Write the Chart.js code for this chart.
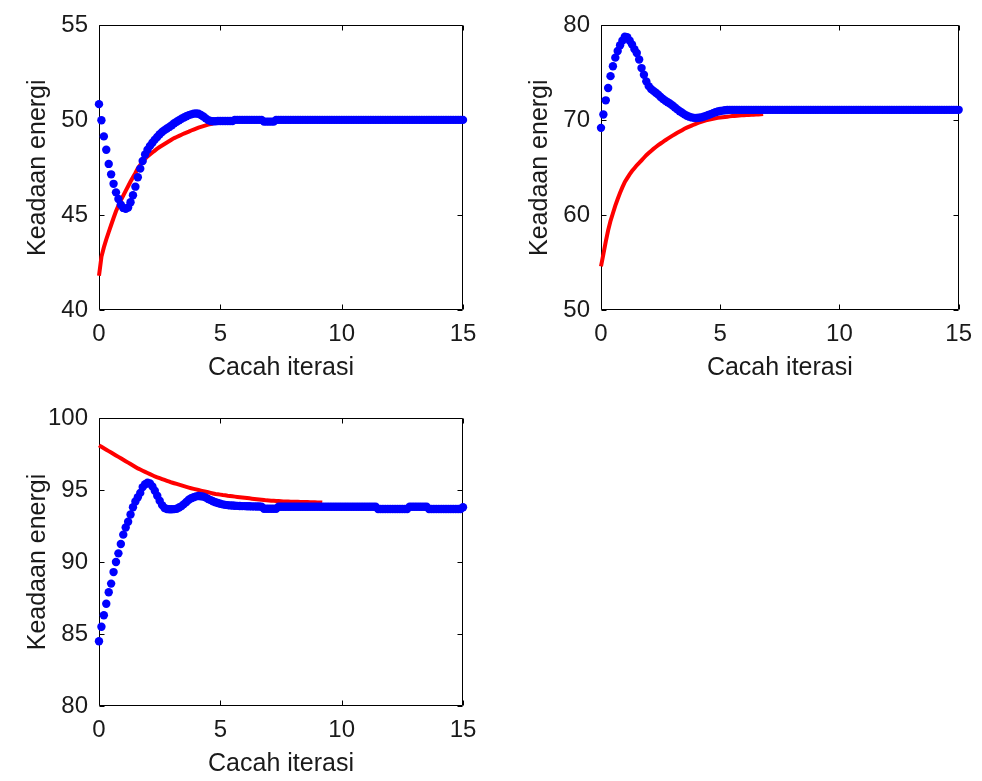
<!DOCTYPE html>
<html>
<head>
<meta charset="utf-8">
<script src="https://cdn.jsdelivr.net/npm/chart.js@4.4.1/dist/chart.umd.min.js"></script>
<style>
html,body{margin:0;padding:0;background:#fff;overflow:hidden;width:982px;height:781px;position:relative;}
canvas{position:absolute;}
</style>
</head>
<body>
<canvas id="c1" width="490" height="390" style="left:0;top:0"></canvas>
<canvas id="c2" width="492" height="390" style="left:490px;top:0"></canvas>
<canvas id="c3" width="490" height="396" style="left:0;top:390px"></canvas>
<script>
// Iteration count (x values, sampled every 0.1)
const iter = [
0,0.1,0.2,0.3,0.4,0.5,0.6,0.7,0.8,0.9,
1,1.1,1.2,1.3,1.4,1.5,1.6,1.7,1.8,1.9,
2,2.1,2.2,2.3,2.4,2.5,2.6,2.7,2.8,2.9,
3,3.1,3.2,3.3,3.4,3.5,3.6,3.7,3.8,3.9,
4,4.1,4.2,4.3,4.4,4.5,4.6,4.7,4.8,4.9,
5,5.1,5.2,5.3,5.4,5.5,5.6,5.7,5.8,5.9,
6,6.1,6.2,6.3,6.4,6.5,6.6,6.7,6.8,6.9,
7,7.1,7.2,7.3,7.4,7.5,7.6,7.7,7.8,7.9,
8,8.1,8.2,8.3,8.4,8.5,8.6,8.7,8.8,8.9,
9,9.1,9.2,9.3,9.4,9.5,9.6,9.7,9.8,9.9,
10,10.1,10.2,10.3,10.4,10.5,10.6,10.7,10.8,10.9,
11,11.1,11.2,11.3,11.4,11.5,11.6,11.7,11.8,11.9,
12,12.1,12.2,12.3,12.4,12.5,12.6,12.7,12.8,12.9,
13,13.1,13.2,13.3,13.4,13.5,13.6,13.7,13.8,13.9,
14,14.1,14.2,14.3,14.4,14.5,14.6,14.7,14.8,14.9,
15];

// Panel 1 (top-left)
const blue1 = [
50.85,50.0,49.15,48.45,47.7,47.15,46.65,46.2,45.85,45.55,
45.38,45.33,45.4,45.68,46.05,46.5,47.0,47.45,47.85,48.2,
48.45,48.65,48.82,48.98,49.12,49.26,49.38,49.48,49.57,49.65,
49.74,49.84,49.92,50.0,50.08,50.15,50.21,50.27,50.31,50.35,
50.36,50.34,50.28,50.2,50.1,50.01,49.96,49.95,49.95,49.96,
49.96,49.96,49.96,49.96,49.96,49.96,50.02,50.02,50.02,50.02,
50.02,50.02,50.02,50.02,50.02,50.02,50.02,50.02,49.93,49.93,
49.93,49.93,49.93,50.02,50.02,50.02,50.02,50.02,50.02,50.02,
50.02,50.02,50.02,50.02,50.02,50.02,50.02,50.02,50.02,50.02,
50.02,50.02,50.02,50.02,50.02,50.02,50.02,50.02,50.02,50.02,
50.02,50.02,50.02,50.02,50.02,50.02,50.02,50.02,50.02,50.02,
50.02,50.02,50.02,50.02,50.02,50.02,50.02,50.02,50.02,50.02,
50.02,50.02,50.02,50.02,50.02,50.02,50.02,50.02,50.02,50.02,
50.02,50.02,50.02,50.02,50.02,50.02,50.02,50.02,50.02,50.02,
50.02,50.02,50.02,50.02,50.02,50.02,50.02,50.02,50.02,50.02,
50.02];
const red1 = [
41.8,42.8,43.3,43.72,44.1,44.48,44.85,45.2,45.5,45.78,
46.03,46.28,46.52,46.77,47.0,47.22,47.47,47.65,47.82,47.97,
48.1,48.2,48.3,48.4,48.5,48.59,48.67,48.75,48.83,48.91,
48.99,49.06,49.12,49.18,49.24,49.3,49.35,49.4,49.46,49.51,
49.56,49.61,49.65,49.69,49.73,49.77,49.8,49.83];

// Panel 2 (top-right)
const blue2 = [
69.2,70.6,72.1,73.4,74.65,75.7,76.6,77.3,77.9,78.4,
78.8,78.75,78.4,78.0,77.5,77.1,76.4,75.5,74.8,74.1,
73.6,73.3,73.1,72.9,72.7,72.45,72.25,72.05,71.9,71.75,
71.55,71.35,71.15,70.95,70.8,70.62,70.48,70.38,70.3,70.25,
70.24,70.26,70.3,70.38,70.46,70.55,70.65,70.75,70.85,70.93,
70.98,71.02,71.05,71.08,71.1,71.1,71.1,71.1,71.1,71.1,
71.1,71.1,71.1,71.1,71.1,71.1,71.1,71.1,71.1,71.1,
71.1,71.1,71.1,71.1,71.1,71.1,71.1,71.1,71.1,71.1,
71.1,71.1,71.1,71.1,71.1,71.1,71.1,71.1,71.1,71.1,
71.1,71.1,71.1,71.1,71.1,71.1,71.1,71.1,71.1,71.1,
71.1,71.1,71.1,71.1,71.1,71.1,71.1,71.1,71.1,71.1,
71.1,71.1,71.1,71.1,71.1,71.1,71.1,71.1,71.1,71.1,
71.1,71.1,71.1,71.1,71.1,71.1,71.1,71.1,71.1,71.1,
71.1,71.1,71.1,71.1,71.1,71.1,71.1,71.1,71.1,71.1,
71.1,71.1,71.1,71.1,71.1,71.1,71.1,71.1,71.1,71.1,
71.1];
const red2 = [
54.6,55.9,57.2,58.4,59.4,60.2,61.0,61.7,62.35,62.95,
63.5,63.9,64.3,64.65,64.95,65.25,65.5,65.78,66.05,66.32,
66.55,66.77,66.98,67.18,67.37,67.55,67.72,67.9,68.06,68.22,
68.38,68.53,68.68,68.82,68.96,69.1,69.22,69.33,69.44,69.55,
69.65,69.74,69.83,69.91,69.99,70.05,70.11,70.16,70.21,70.25,
70.29,70.32,70.35,70.38,70.41,70.44,70.46,70.48,70.5,70.52,
70.54,70.55,70.56,70.58,70.59,70.6,70.62,70.63,70.65];

// Panel 3 (bottom-left)
const blue3 = [
84.5,85.5,86.3,87.1,87.9,88.5,89.3,90.0,90.6,91.25,
91.9,92.4,92.8,93.3,93.8,94.2,94.5,94.8,95.2,95.4,
95.5,95.45,95.25,94.95,94.6,94.25,93.95,93.75,93.68,93.66,
93.66,93.67,93.7,93.78,93.88,94.02,94.17,94.32,94.43,94.5,
94.56,94.58,94.57,94.54,94.47,94.38,94.3,94.22,94.15,94.1,
94.05,94.0,93.97,93.95,93.93,93.92,93.91,93.9,93.89,93.88,
93.88,93.87,93.87,93.86,93.86,93.85,93.85,93.84,93.7,93.7,
93.7,93.7,93.7,93.7,93.84,93.84,93.84,93.84,93.84,93.84,
93.84,93.84,93.84,93.84,93.84,93.84,93.84,93.84,93.84,93.84,
93.84,93.84,93.84,93.84,93.84,93.84,93.84,93.84,93.84,93.84,
93.84,93.84,93.84,93.84,93.84,93.84,93.84,93.84,93.84,93.84,
93.84,93.84,93.84,93.84,93.84,93.68,93.68,93.68,93.68,93.68,
93.68,93.68,93.68,93.68,93.68,93.68,93.68,93.68,93.84,93.84,
93.84,93.84,93.84,93.84,93.84,93.84,93.68,93.68,93.68,93.68,
93.68,93.68,93.68,93.68,93.68,93.68,93.68,93.68,93.68,93.68,
93.8];
const red3 = [
98.1,98.0,97.9,97.8,97.7,97.6,97.5,97.4,97.3,97.2,
97.1,97.0,96.9,96.8,96.7,96.6,96.5,96.42,96.34,96.26,
96.18,96.1,96.02,95.94,95.88,95.82,95.76,95.7,95.64,95.58,
95.52,95.47,95.42,95.37,95.32,95.27,95.22,95.17,95.12,95.08,
95.04,95.0,94.96,94.92,94.88,94.84,94.8,94.76,94.72,94.7,
94.68,94.65,94.63,94.6,94.58,94.56,94.54,94.52,94.5,94.48,
94.46,94.44,94.42,94.4,94.38,94.36,94.34,94.32,94.3,94.28,
94.27,94.26,94.25,94.24,94.23,94.22,94.21,94.2,94.2,94.19,
94.19,94.18,94.18,94.17,94.17,94.16,94.16,94.15,94.15,94.15,
94.14,94.14,94.13];

const xTitle = 'Cacah iterasi';
const yTitle = 'Keadaan energi';
const FONT = '"Liberation Sans", Arial, Helvetica, sans-serif';
const TXT = '#1a1a1a';

const frame = {
  id: 'frame',
  beforeDatasetsDraw(chart) {
    const {ctx, chartArea: a, scales: {x, y}} = chart;
    ctx.save();
    ctx.strokeStyle = '#000';
    ctx.lineWidth = 1;
    const L = Math.round(a.left) + 0.5, R = Math.round(a.right) - 0.5;
    const T = Math.round(a.top) + 0.5, B = Math.round(a.bottom) - 0.5;
    ctx.beginPath();
    ctx.rect(L, T, R - L, B - T);
    x.ticks.forEach(t => {
      const p = Math.round(x.getPixelForValue(t.value)) + 0.5;
      ctx.moveTo(p, B); ctx.lineTo(p, B - 5);
      ctx.moveTo(p, T); ctx.lineTo(p, T + 5);
    });
    y.ticks.forEach(t => {
      const p = Math.round(y.getPixelForValue(t.value)) + 0.5;
      ctx.moveTo(L, p); ctx.lineTo(L + 5, p);
      ctx.moveTo(R, p); ctx.lineTo(R - 5, p);
    });
    ctx.stroke();
    ctx.restore();
  }
};

function makeChart(id, blue, red, yMin, yMax, yStep, pad) {
  new Chart(document.getElementById(id), {
    type: 'scatter',
    data: {
      datasets: [
        {
          data: blue.map((v, i) => ({x: iter[i], y: v})),
          showLine: false,
          pointRadius: 4.2,
          pointBorderWidth: 0,
          pointBackgroundColor: '#0000ff',
          clip: false
        },
        {
          data: red.map((v, i) => ({x: iter[i], y: v})),
          showLine: true,
          borderColor: '#ff0000',
          borderWidth: 4,
          pointRadius: 0,
          tension: 0,
          clip: false
        }
      ]
    },
    options: {
      responsive: false,
      animation: false,
      events: [],
      layout: {padding: pad},
      plugins: {legend: {display: false}, tooltip: {enabled: false}},
      scales: {
        x: {
          type: 'linear', min: 0, max: 15,
          grid: {display: false, drawTicks: false},
          border: {display: false},
          ticks: {stepSize: 5, padding: 10, color: TXT, font: {family: FONT, size: 24}},
          title: {display: true, text: xTitle, color: TXT, font: {family: FONT, size: 25}, padding: {top: 0, bottom: 7}},
          afterFit(s) { s.height = 80; }
        },
        y: {
          type: 'linear', min: yMin, max: yMax,
          grid: {display: false, drawTicks: false},
          border: {display: false},
          ticks: {stepSize: yStep, padding: 11, color: TXT, font: {family: FONT, size: 24}},
          title: {display: true, text: yTitle, color: TXT, font: {family: FONT, size: 25}, padding: {top: 23, bottom: 0}},
          afterFit(s) { s.width = 99; }
        }
      }
    },
    plugins: [frame]
  });
}

makeChart('c1', blue1, red1, 40, 55, 5, {left: 0, top: 24, right: 27, bottom: 0});
makeChart('c2', blue2, red2, 50, 80, 10, {left: 12, top: 24, right: 17, bottom: 0});
makeChart('c3', blue3, red3, 80, 100, 5, {left: 0, top: 28, right: 27, bottom: 0});
</script>
</body>
</html>
